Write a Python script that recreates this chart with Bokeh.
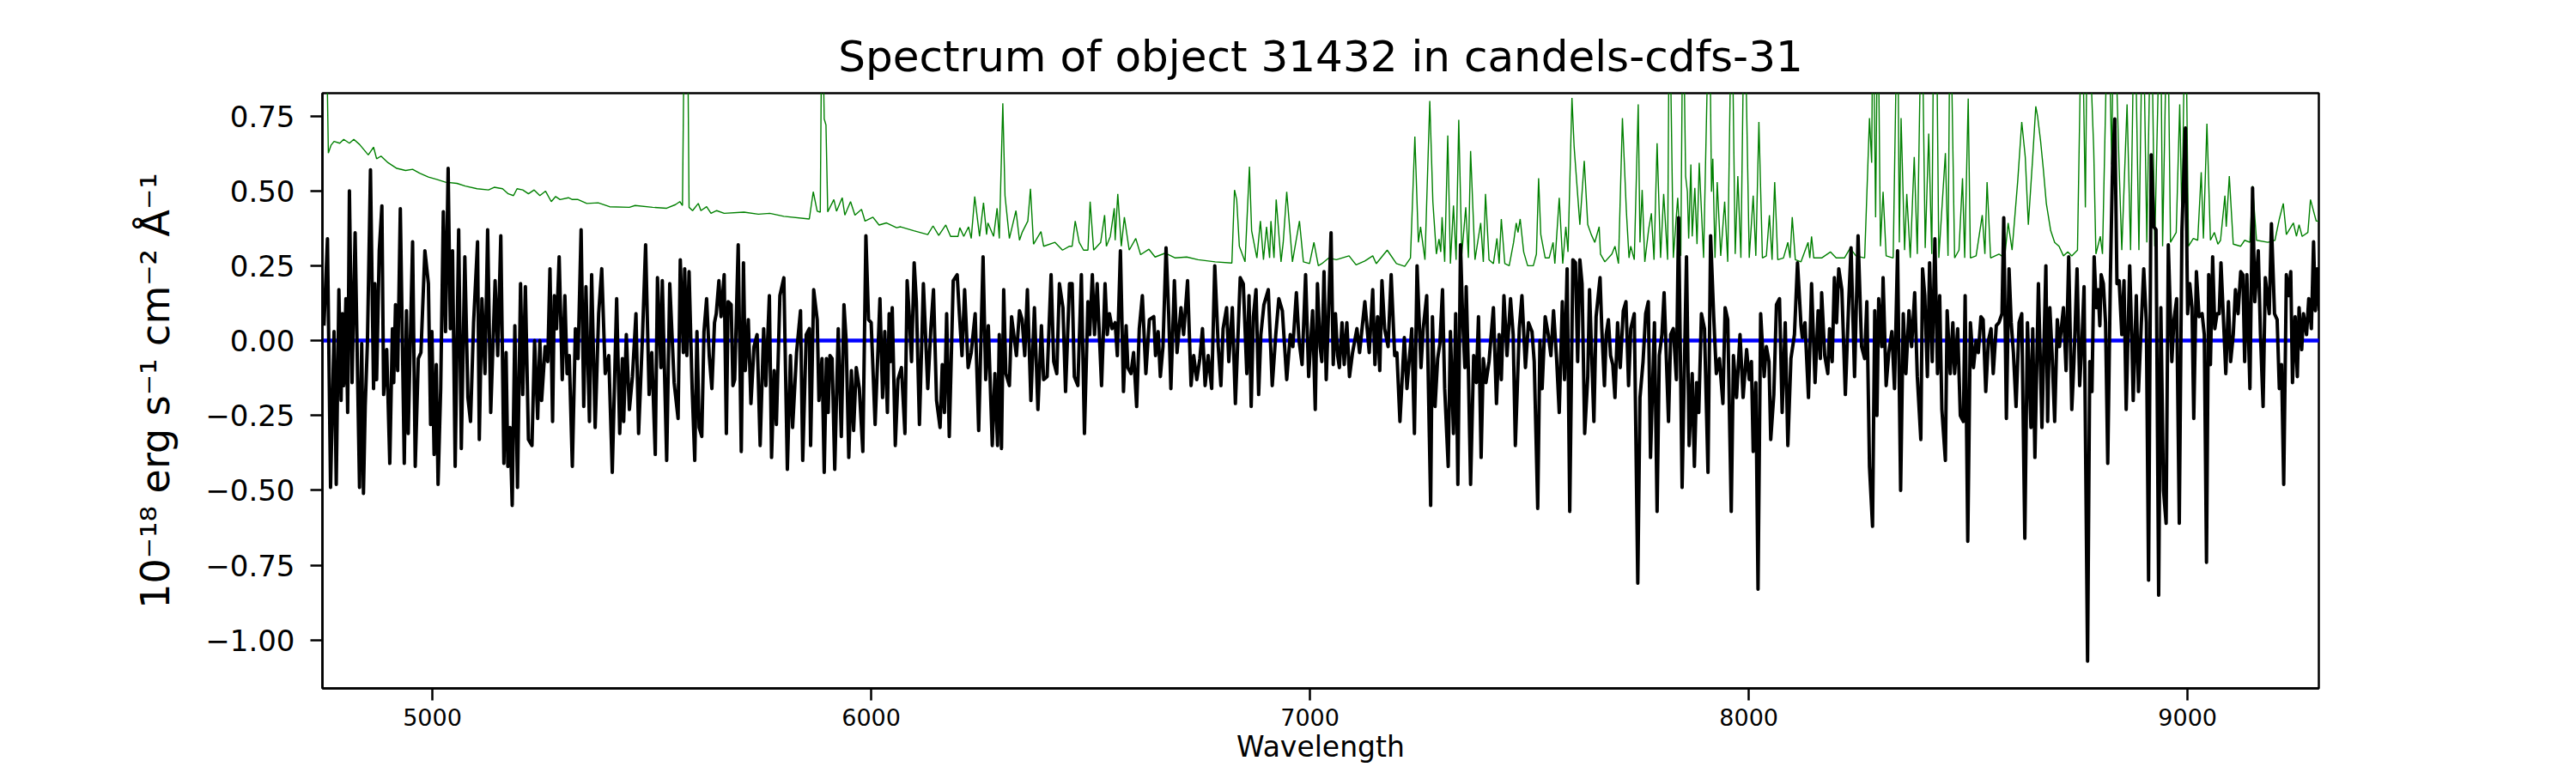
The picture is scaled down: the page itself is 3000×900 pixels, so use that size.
from bokeh.plotting import figure
from bokeh.models import FixedTicker, CustomJSTickFormatter, Range1d
from bokeh.embed import file_html
from bokeh.resources import INLINE

wl1 = [4753,4761,4768,4776,4781,4787,4792,4795,4798,4803, 4807,4811,4817,4824,4834,4839,4843,4847,4852,4859,
       4866,4869,4873,4879,4885,4889,4896,4903,4909,4912, 4916,4921,4927,4936,4941,4945,4955,4961,4968,4974,
       4983,4991,4996,4999,5004,5009,5013,5019,5025,5030, 5036,5041,5046,5052,5060,5066,5074,5081,5087,5094,
       5103,5107,5113,5120,5126,5133,5143,5149,5156,5163, 5168,5172,5177,5182,5188,5194,5201,5206,5212,5219,
       5227,5233,5240,5245,5249,5257,5263,5268,5274,5278, 5283,5289,5296,5302,5307,5312]
fx1 = [0.05,0.34,-0.49,0.03,-0.48,0.17,-0.20,0.09,-0.15,0.14, -0.24,0.50,-0.14,0.36,-0.49,-0.01,-0.51,-0.22,-0.01,0.57,
       -0.16,0.19,-0.13,0.30,0.45,-0.18,-0.03,-0.41,0.04,-0.14, 0.12,-0.10,0.44,-0.41,0.10,-0.31,0.33,-0.42,-0.06,-0.04,
       0.30,0.19,-0.28,0.03,-0.38,-0.08,-0.48,-0.16,0.43,0.03, 0.575,0.04,0.30,-0.42,0.37,-0.36,0.28,-0.19,-0.27,0.06,
       0.33,-0.33,0.14,-0.11,0.37,-0.24,0.20,-0.05,0.35,-0.41, -0.04,-0.42,-0.29,-0.55,0.05,-0.49,0.19,-0.18,0.18,-0.33,
       -0.35,0.00,-0.26,0.00,-0.20,-0.02,-0.07,0.24,-0.27,0.15, 0.04,0.28,-0.13,0.15,-0.11,-0.05]

wl2 = [5319,5326,5332,5339,5345,5350,5358,5363,5371,5379, 5386,5394,5402,5410,5420,5427,5433,5436,5442,5449,
       5456,5464,5470,5479,5486,5494,5500,5508,5513,5521, 5524,5534,5541,5551,5560,5565,5572,5575,5580,5585,
       5592,5598,5603,5608,5614,5619,5625,5631,5637,5643, 5647,5653,5658,5665,5670,5674,5681,5685,5689,5697,
       5704,5709,5713,5720,5726,5733,5740,5747,5755,5760, 5768,5773,5779,5784,5792,5801,5809,5816,5821,5830,
       5839,5844,5852,5859,5862,5869,5877,5881]
fx2 = [-0.42,0.04,-0.06,0.37,-0.22,0.18,-0.27,0.22,-0.29,0.09, 0.24,-0.11,-0.05,-0.44,0.14,-0.31,-0.06,-0.27,0.02,-0.23,
       -0.12,0.09,-0.31,0.02,0.32,-0.18,-0.04,-0.38,0.21,-0.09, 0.20,-0.40,0.19,-0.14,-0.26,0.27,-0.04,0.24,-0.05,0.23,
       -0.16,-0.40,0.03,-0.29,-0.32,0.03,0.14,-0.05,-0.16,0.06, 0.09,0.20,0.08,0.22,-0.31,0.13,0.12,-0.15,-0.13,0.32,
       -0.37,0.26,-0.10,0.07,-0.21,-0.02,0.02,-0.35,0.04,-0.15, 0.15,-0.39,-0.10,-0.28,0.15,0.21,-0.43,-0.05,-0.29,-0.04,
       0.10,-0.40,0.02,0.04,-0.35,0.17,0.07,-0.20]

wl3 = [5888,5893,5898,5902,5906,5911,5917,5921,5925,5932, 5938,5943,5949,5955,5960,5966,5973,5981,5988,5994,
       6000,6009,6020,6026,6031,6037,6041,6044,6048,6055, 6061,6069,6077,6082,6087,6092,6098,6103,6110,6119,
       6129,6136,6142,6149,6157,6162,6167,6172,6178,6187, 6196,6201,6207,6213,6221,6228,6237,6245,6255,6261,
       6267,6276,6282,6288,6292,6297,6302,6307,6315,6320, 6331,6338,6344,6350,6356,6364,6372,6380,6388,6393,
       6401,6410,6416,6423,6429,6437,6443,6452]
fx3 = [-0.06,-0.44,-0.06,-0.24,-0.05,-0.06,-0.43,-0.19,0.04,-0.32, 0.12,0.00,-0.39,-0.10,-0.30,-0.09,-0.16,-0.37,0.35,0.07,
       0.06,-0.28,0.14,-0.19,0.03,-0.24,0.09,-0.07,0.11,-0.35, -0.13,-0.09,-0.31,0.20,0.08,-0.07,0.26,0.13,-0.28,0.19,
       -0.16,0.04,0.17,-0.20,-0.29,-0.08,-0.24,0.09,-0.32,0.20, 0.22,0.09,-0.05,0.17,-0.09,-0.04,0.09,-0.30,0.28,-0.13,
       0.05,-0.35,-0.11,-0.35,0.02,-0.36,0.17,-0.11,-0.15,0.08, -0.05,0.10,0.07,-0.05,0.17,-0.20,0.11,-0.23,0.05,-0.13,
       -0.12,0.22,-0.07,-0.11,0.19,0.11,-0.17,0.19]

wl4 = [6458,6463,6471,6479,6486,6494,6498,6504,6509,6515, 6525,6533,6538,6543,6549,6556,6561,6568,6575,6581,
       6585,6592,6598,6605,6611,6618,6626,6634,6644,6648, 6654,6659,6665,6672,6678,6683,6691,6697,6706,6712,
       6721,6729,6735,6742,6749,6755,6761,6768,6776,6783, 6791,6797,6802,6810,6815,6823,6830,6841,6848,6856,
       6861,6866,6871,6877,6883,6888,6895,6905,6914,6922, 6929,6937,6947,6955,6961,6969,6975,6982,6990,6997,
       7006,7012,7017,7023]
fx4 = [0.19,-0.12,-0.15,0.22,-0.31,0.13,0.02,0.22,0.02,0.19, -0.15,0.19,0.02,0.09,0.04,0.06,-0.05,0.30,-0.17,0.05,
       -0.09,-0.11,-0.04,-0.22,0.04,0.15,-0.11,0.07,0.08,-0.05, 0.03,-0.12,-0.02,0.31,0.09,-0.16,0.20,-0.04,0.11,0.02,
       0.20,-0.15,-0.05,-0.13,-0.06,0.04,-0.15,-0.05,-0.16,0.25, -0.02,-0.15,0.04,0.11,-0.07,0.11,-0.21,0.21,0.19,-0.11,
       0.15,-0.22,0.08,0.17,-0.18,0.02,0.12,0.17,-0.15,0.02, 0.14,0.10,-0.13,0.02,-0.02,0.16,0.00,-0.08,0.22,-0.12,
       0.10,-0.23,0.19,-0.02]

wl5 = [7027,7032,7037,7041,7048,7053,7058,7063,7067,7073, 7078,7084,7090,7097,7107,7113,7125,7135,7143,7148,
       7154,7159,7164,7170,7178,7185,7193,7198,7205,7215, 7221,7232,7238,7244,7253,7258,7266,7275,7279,7285,
       7291,7296,7302,7307,7315,7320,7327,7332,7337,7343, 7348,7353,7356,7361,7366,7373,7379,7384,7390,7395,
       7401,7408,7418,7425,7431,7436,7442,7449,7457,7463, 7468,7477,7483,7491,7498,7506,7511,7519,7524,7529,
       7536,7543,7549,7555,7562,7568,7575,7580,7586,7592]
fx5 = [-0.07,0.23,-0.13,0.04,0.36,-0.08,0.09,-0.05,-0.09,0.06, -0.08,0.06,-0.12,-0.04,0.04,-0.04,0.13,-0.04,0.17,-0.08,
       0.08,-0.10,0.20,0.04,-0.02,0.22,-0.05,-0.04,-0.27,0.01, -0.16,0.04,-0.31,0.25,-0.09,0.04,0.15,-0.55,0.08,-0.22,
       -0.06,-0.01,0.17,-0.16,-0.42,0.03,-0.31,0.09,-0.48,0.32, 0.07,-0.09,0.18,-0.10,-0.48,-0.05,-0.14,0.08,-0.39,-0.06,
       -0.14,-0.07,0.11,-0.21,0.02,-0.13,0.15,-0.05,0.14,0.02, -0.35,0.04,0.15,-0.09,0.06,0.03,-0.07,-0.56,0.00,-0.16,
       0.08,0.02,-0.05,0.10,-0.06,-0.24,0.13,-0.13,0.24,-0.57]

wl6 = [7599,7605,7610,7615,7620,7626,7633,7637,7647,7652, 7661,7665,7671,7675,7680,7685,7690,7695,7701,7707,
       7714,7720,7726,7731,7739,7747,7752,7759,7765,7771, 7776,7785,7791,7796,7802,7807,7817,7822,7828,7835,
       7840,7848,7858,7864,7871,7876,7881,7886,7892,7899, 7907,7913,7920,7926,7933,7941,7946,7952,7960,7965,
       7972,7980,7987,7995,8001,8006,8010,8016,8021,8027, 8035,8040,8046,8050,8057,8063,8070,8076,8083,8089,
       8096,8104,8111,8119,8122,8128,8136,8143,8151,8158, 8163]
fx6 = [0.27,0.26,-0.07,0.27,0.19,-0.31,-0.12,0.17,-0.27,0.08, 0.21,0.04,-0.15,0.02,0.07,-0.05,-0.08,-0.19,0.06,-0.09,
       0.10,0.13,-0.15,0.04,0.09,-0.81,-0.19,-0.07,0.09,0.13, -0.39,0.06,-0.57,-0.05,0.02,0.16,-0.27,0.02,0.04,-0.13,
       0.41,-0.49,0.28,-0.35,-0.11,-0.42,-0.14,-0.24,0.09,0.04, -0.44,0.35,0.08,-0.11,-0.06,-0.21,0.11,0.07,-0.57,-0.05,
       -0.19,0.02,-0.19,-0.03,-0.13,-0.07,-0.37,-0.14,-0.83,0.09, -0.12,-0.02,-0.07,-0.33,-0.18,0.12,0.14,-0.24,0.06,-0.35,
       -0.06,0.02,0.26,0.05,0.01,0.06,-0.19,0.19,-0.14,0.10, -0.06]

wl7 = [8166,8173,8180,8184,8190,8195,8200,8205,8212,8220, 8228,8233,8241,8249,8257,8264,8269,8275,8282,8287,
       8292,8296,8303,8306,8313,8319,8326,8332,8339,8346, 8352,8358,8365,8371,8378,8384,8392,8396,8401,8407,
       8412,8418,8424,8430,8435,8440,8448,8452,8459,8465, 8469,8476,8482,8489,8493,8499,8505,8512,8518,8523,
       8529,8534,8540,8546,8552,8557,8564,8570,8577,8581, 8587,8593,8598,8603,8609,8616,8622,8629,8635,8643,
       8647,8652,8660,8668,8677,8681,8686,8691,8697,8703, 8708,8717,8723,8729]
fx7 = [0.16,-0.05,-0.11,0.04,-0.07,0.21,0.06,0.24,0.17,-0.18, 0.14,0.31,-0.12,0.35,-0.02,-0.06,0.13,-0.42,-0.62,0.10,
       -0.25,0.14,-0.02,0.21,-0.15,-0.04,0.03,-0.16,0.30,-0.50, 0.09,-0.11,0.10,-0.02,0.16,-0.12,-0.33,0.24,0.15,-0.12,
       0.26,-0.07,0.34,-0.11,0.15,-0.23,-0.40,0.10,-0.11,0.06, -0.11,0.04,-0.25,-0.27,0.15,-0.67,0.06,-0.09,0.00,-0.04,
       0.08,0.07,-0.17,0.00,0.04,-0.11,0.05,0.06,0.09,0.41, -0.26,0.24,0.06,-0.04,-0.22,0.06,0.09,-0.66,0.06,-0.29,
       0.04,-0.39,0.19,-0.29,0.25,-0.27,0.11,-0.04,-0.27,0.07, -0.02,0.11,-0.10,0.28]

wl8 = [8736,8741,8748,8754,8759,8764,8772,8777,8782,8787, 8792,8796,8800,8803,8808,8813,8818,8824,8829,8834,
       8839,8844,8850,8855,8860,8868,8873,8876,8883,8888, 8894,8900,8906,8911,8917,8923,8928,8934,8939,8945,
       8951,8956,8964,8969,8975,8981,8987,8995,9000,9005, 9010,9014,9020,9026,9033,9038,9043,9048,9052,9057,
       9062,9067,9072,9076,9082,9087,9093,9098,9104,9109, 9115,9121,9126,9130,9135,9142,9148,9153,9161,9166,
       9172,9177,9186,9191,9198,9204,9209,9214,9219,9225, 9230,9235,9239,9245,9250,9254,9260,9264,9271,9276,
       9282,9287,9291,9295,9300]
fx8 = [-0.23,-0.07,0.24,-0.15,-0.01,0.18,-1.07,-0.07,-0.17,0.28, 0.11,0.17,0.05,0.22,0.19,0.06,-0.41,0.21,0.59,0.74,
       0.19,0.20,0.02,0.20,-0.23,0.25,0.00,-0.20,0.15,-0.17, 0.04,0.24,0.06,-0.80,0.62,0.38,0.37,-0.85,0.11,-0.50,
       -0.61,0.32,-0.07,0.07,0.14,-0.61,0.37,0.71,0.09,0.19, 0.11,-0.26,0.23,0.08,0.09,0.02,-0.74,0.22,-0.08,0.28,
       0.04,0.09,0.09,0.26,0.06,-0.11,0.13,-0.07,0.02,0.17, 0.09,0.23,0.22,-0.07,0.22,-0.16,0.51,0.13,0.30,0.02,
       -0.22,0.21,0.09,0.39,0.09,0.07,-0.16,-0.08,-0.48,0.22, 0.15,0.23,-0.14,0.08,-0.12,0.11,-0.03,0.09,0.02,0.14,
       0.04,0.33,0.10,0.24,0.10]

# ---------------- green spectrum (sky / noise) ----------------
gwl1 = [4750,4757,4763,4769,4776,4789,4798,4811,4821,4834,4854,4866,4873,4883,4899,4919,4939,4955,4971,4991,
        5010,5030,5056,5075,5102,5128,5141,5160,5173,5185,5193,5206,5219,5232,5245,5258,5271,5281,5291,5310]
gv1 = [1.2,1.2,0.626,0.652,0.665,0.659,0.672,0.659,0.672,0.655,0.62,0.646,0.607,0.616,0.594,0.575,0.568,0.572,0.559,0.546,
       0.538,0.529,0.525,0.516,0.507,0.503,0.512,0.507,0.49,0.484,0.507,0.503,0.49,0.503,0.484,0.499,0.464,0.481,0.471,0.477]
gwl2 = [5319,5332,5352,5378,5404,5449,5462,5502,5534,5554,5564,5570,5575,5581,5585,5593,5606,5612,5625,5635,
        5648,5665,5710,5743,5769,5801,5859,5868,5877,5884]
gv2 = [0.471,0.471,0.458,0.46,0.447,0.445,0.451,0.445,0.442,0.454,0.464,0.451,1.2,1.2,0.445,0.434,0.458,0.434,0.447,0.425,
       0.434,0.425,0.429,0.422,0.425,0.415,0.406,0.497,0.432,0.429]
gwl3 = [5888,5893,5897,5901,5915,5921,5934,5940,5953,5963,5978,5986,6004,6018,6035,6058,6067,6097,6129,6141,
        6154,6170,6181,6198,6202,6211,6222,6228,6236,6247,6256,6263,6266,6279,6287,6292,6300,6305,6315,6330,
        6338,6344,6357,6363,6370,6387,6393,6419,6436,6452]
gv3 = [1.2,0.74,0.72,0.43,0.471,0.432,0.477,0.419,0.464,0.419,0.438,0.399,0.412,0.386,0.393,0.377,0.38,0.367,0.354,0.383,
       0.351,0.386,0.348,0.348,0.377,0.348,0.38,0.341,0.481,0.348,0.46,0.354,0.393,0.348,0.442,0.341,0.792,0.484,0.341,0.434,
       0.335,0.361,0.399,0.507,0.322,0.364,0.315,0.328,0.302,0.315]
gwl4 = [6458,6465,6474,6484,6494,6499,6507,6523,6532,6536,6545,6554,6556,6562,6570,6577,6588,6603,6614,6633,
        6647,6670,6693,6719,6745,6784,6822,6828,6833,6839,6852,6862,6867,6879,6887,6894,6901,6908,6911,6918,
        6923,6934,6939,6947,6960,6976,6985,6999,7009,7019]
gv4 = [0.315,0.399,0.328,0.302,0.302,0.464,0.302,0.328,0.419,0.315,0.348,0.442,0.335,0.49,0.315,0.412,0.302,0.341,0.287,0.305,
       0.279,0.292,0.276,0.279,0.27,0.263,0.259,0.503,0.471,0.315,0.263,0.581,0.367,0.276,0.399,0.27,0.38,0.276,0.399,0.276,
       0.471,0.263,0.328,0.497,0.263,0.399,0.263,0.257,0.328,0.25]
gwl5 = [7027,7043,7060,7089,7105,7125,7143,7151,7176,7197,7216,7229,7239,7247,7252,7262,7273,7280,7288,7294,
        7298,7301,7307,7314,7320,7327,7333,7339,7346,7355,7361,7366,7376,7389,7395,7400,7408,7418,7426,7431,
        7436,7444,7454,7464,7470,7474,7479,7487,7496,7509,7516,7521,7526,7536,7545,7554,7558,7568,7576,7583,7588]
gv5 = [0.257,0.276,0.27,0.283,0.253,0.266,0.283,0.257,0.302,0.257,0.248,0.276,0.681,0.328,0.38,0.27,0.80,0.464,0.289,0.339,
       0.296,0.412,0.263,0.685,0.257,0.451,0.27,0.737,0.289,0.445,0.276,0.633,0.27,0.393,0.263,0.49,0.27,0.257,0.341,0.257,
       0.406,0.257,0.25,0.328,0.393,0.361,0.406,0.296,0.25,0.25,0.289,0.542,0.354,0.276,0.276,0.328,0.257,0.477,0.257,0.38,0.296]
gwl6 = [7597,7602,7615,7625,7633,7641,7649,7659,7662,7672,7688,7695,7703,7712,7721,7727,7731,7739,7748,7752,
        7757,7763,7772,7778,7784,7791,7799,7806,7815,7819,7828,7838,7845,7850,7856,7860,7863,7868,7871,7877,
        7882,7887,7897,7910,7915,7918,7923,7928,7936,7945,7952,7961,7969,7975,7982,7990,8001,8010,8016,8023,
        8031,8040,8047,8053,8059,8066,8079,8089,8094,8099,8106,8119,8135,8139,8143,8148,8161]
gv6 = [0.81,0.646,0.387,0.60,0.387,0.354,0.328,0.38,0.289,0.263,0.289,0.315,0.257,0.743,0.432,0.276,0.315,0.27,0.789,0.328,
       0.503,0.263,0.374,0.425,0.27,0.659,0.276,0.49,0.27,1.2,0.276,0.477,0.283,1.2,0.549,0.497,0.341,0.588,0.348,0.51,
       0.322,0.594,0.276,1.2,0.497,0.607,0.276,0.529,0.283,0.464,0.263,1.2,0.289,0.549,0.276,1.2,0.276,0.484,0.283,0.73,
       0.276,0.283,0.419,0.27,0.529,0.27,0.276,0.328,0.276,0.412,0.27,0.263,0.328,0.276,0.348,0.276,0.276]
gwl7 = [8166,8186,8199,8218,8231,8244,8264,8275,8280,8283,8289,8294,8300,8306,8313,8329,8339,8343,8347,8355,
        8360,8368,8377,8384,8394,8402,8410,8417,8422,8427,8433,8448,8454,8459,8469,8479,8487,8492,8500,8505,
        8518,8532,8538,8543,8551,8570,8583,8591,8600,8613,8622,8630,8637,8647,8654,8658,8665,8671,8678,8688,
        8697,8707,8717,8727]
gv7 = [0.276,0.296,0.276,0.276,0.309,0.283,0.276,0.743,0.594,1.2,0.412,1.2,0.315,0.497,0.283,0.276,1.2,0.328,0.743,0.302,
       0.49,0.276,0.613,0.289,1.2,0.309,0.691,0.289,1.2,1.2,0.276,0.626,0.283,1.2,0.276,0.302,0.542,0.276,0.808,0.276,
       0.283,0.419,0.289,0.529,0.276,0.289,0.276,0.393,0.302,0.536,0.73,0.613,0.387,0.613,0.782,0.75,0.665,0.575,0.458,0.367,
       0.328,0.315,0.283,0.296]
gwl8 = [8736,8749,8759,8767,8772,8786,8791,8801,8806,8819,8827,8832,8844,8850,8862,8870,8879,8889,8898,8907,
        8917,8925,8938,8943,8954,8961,8974,8982,8987,8995,9002,9013,9023,9031,9036,9044,9052,9061,9069,9075,
        9085,9088,9095,9104,9121,9130,9142,9148,9157,9183,9199,9209,9218,9225,9241,9248,9254,9261,9274,9280,
        9293,9299]
gv8 = [0.283,0.302,1.2,0.445,1.2,0.639,0.289,0.348,0.289,1.2,0.588,1.2,0.575,0.302,0.789,0.302,1.2,0.302,1.2,0.328,
       1.2,0.315,1.2,0.315,1.2,0.328,0.361,0.789,0.406,1.2,0.315,0.341,0.335,0.562,0.341,0.724,0.335,0.361,0.322,0.335,
       0.484,0.38,0.549,0.322,0.315,0.335,0.328,0.516,0.335,0.328,0.335,0.406,0.458,0.354,0.393,0.348,0.387,0.348,0.361,0.471,
       0.399,0.399]

# ---------------- model (blue) ----------------
model_wave = [4750, 9300]
model_flux = [0.0, 0.0]

x_ticks = [5000, 6000, 7000, 8000, 9000]
y_ticks = [-1.0, -0.75, -0.5, -0.25, 0.0, 0.25, 0.5, 0.75]

flux_segments = [(wl1, fx1), (wl2, fx2), (wl3, fx3), (wl4, fx4), (wl5, fx5), (wl6, fx6), (wl7, fx7), (wl8, fx8)]
sky_segments = [(gwl1, gv1), (gwl2, gv2), (gwl3, gv3), (gwl4, gv4), (gwl5, gv5), (gwl6, gv6), (gwl7, gv7), (gwl8, gv8)]
for i, (a, b) in enumerate(flux_segments + sky_segments):
    assert len(a) == len(b), (i, len(a), len(b))

wave = [w for a, _ in flux_segments for w in a]
flux = [f for _, b in flux_segments for f in b]
sky_wave = [w for a, _ in sky_segments for w in a]
sky = [f for _, b in sky_segments for f in b]

FONT = "DejaVu Sans"

p = figure(width=2984, height=892, output_backend="svg", toolbar_location=None,
           x_range=Range1d(4749.5, 9299), y_range=Range1d(-1.161, 0.826),
           min_border_left=375, min_border_right=284, min_border_top=108, min_border_bottom=91,
           title="Spectrum of object 31432 in candels-cdfs-31")
p.background_fill_color = "white"
p.border_fill_color = "white"
p.outline_line_color = "black"
p.outline_line_width = 2.5
p.outline_line_alpha = 1.0
p.xgrid.visible = False
p.ygrid.visible = False

p.title.align = "center"
p.title.text_font = FONT
p.title.text_font_size = "50px"
p.title.text_font_style = "normal"
p.title.text_color = "black"
p.title.standoff = 28

for ax in (p.xaxis[0], p.yaxis[0]):
    ax.axis_line_color = "black"
    ax.axis_line_width = 2.5
    ax.major_tick_line_color = "black"
    ax.major_tick_line_width = 2.5
    ax.major_tick_out = 14
    ax.major_tick_in = 0
    ax.minor_tick_line_color = None
    ax.major_label_text_font = FONT
    ax.major_label_text_color = "black"
    ax.axis_label_text_font = FONT
    ax.axis_label_text_font_style = "normal"
    ax.axis_label_text_color = "black"

p.xaxis.ticker = FixedTicker(ticks=x_ticks)
p.yaxis.ticker = FixedTicker(ticks=y_ticks)
p.yaxis.formatter = CustomJSTickFormatter(code="return (tick < -1e-9 ? '\u2212' : '') + Math.abs(tick).toFixed(2);")

p.xaxis.major_label_text_font_size = "27px"
p.xaxis.major_label_standoff = 9
p.xaxis.axis_label = "Wavelength"
p.xaxis.axis_label_text_font_size = "33px"
p.xaxis.axis_label_text_line_height = 1.0
p.xaxis.axis_label_standoff = 2

p.yaxis.major_label_text_font_size = "34px"
p.yaxis.major_label_standoff = 18
p.yaxis.axis_label = "10⁻¹⁸ erg s⁻¹ cm⁻² Å⁻¹"
p.yaxis.axis_label_text_font_size = "46px"
p.yaxis.axis_label_standoff = 28

p.line(sky_wave, sky, line_color="#008000", line_width=1.4)
p.line(model_wave, model_flux, line_color="#0000ff", line_width=4.5)
p.line(wave, flux, line_color="black", line_width=4, line_join="round")

open("out.html", "w", encoding="utf-8").write(file_html(p, INLINE))
